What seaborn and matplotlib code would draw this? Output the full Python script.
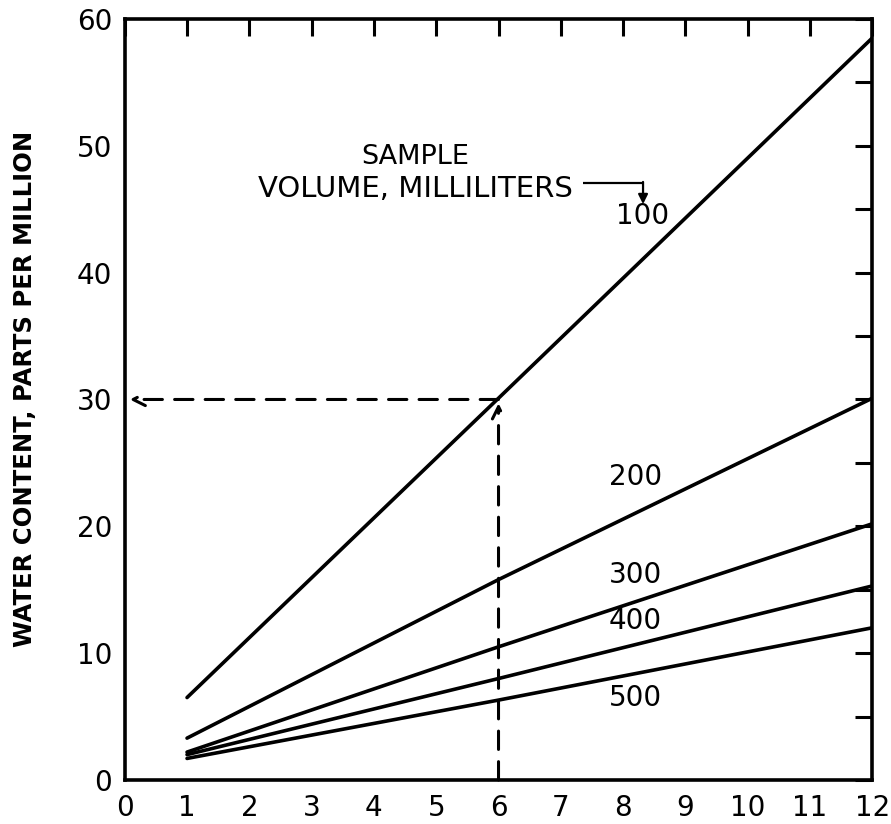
import matplotlib
matplotlib.use("Agg")
import matplotlib.pyplot as plt
import seaborn as sns
import pandas as pd
import numpy as np

# Data
x_points = [1, 6, 12]
vol_100 = [6.5, 30.1, 58.5]
vol_200 = [3.3, 15.8, 30.1]
vol_300 = [2.2, 10.5, 20.2]
vol_400 = [2.0, 8.0, 15.3]
vol_500 = [1.7, 6.3, 12.0]
volumes = ["100", "200", "300", "400", "500"]
series = [vol_100, vol_200, vol_300, vol_400, vol_500]
label_pos = {"100": (8.32, 44.5), "200": (8.2, 23.9), "300": (8.2, 16.2),
             "400": (8.2, 12.5), "500": (8.2, 6.5)}
x_ticks = list(range(0, 13))
x_ticklabels = ["0", "1", "2", "3", "4", "5", "6", "7", "8", "9", "10", "11", "12"]
y_ticks = [0, 10, 20, 30, 40, 50, 60]
y_minor = [5, 15, 25, 35, 45, 55]

rows = []
for v, s in zip(volumes, series):
    for xx, yy in zip(x_points, s):
        rows.append({"time": xx, "water": yy, "volume": v})
df = pd.DataFrame(rows)

sns.set_theme(style="white")
plt.rcParams["font.family"] = ["DejaVu Sans"]

fig = plt.figure(figsize=(8.91, 8.24), dpi=100)
ax = fig.add_axes([0.140, 0.0534, 0.839, 0.9236])

sns.lineplot(data=df, x="time", y="water", units="volume", estimator=None,
             color="black", linewidth=2.6, ax=ax, legend=False)

ax.set_xlim(0, 12)
ax.set_ylim(0, 60)

for v in volumes:
    px, py = label_pos[v]
    ax.text(px, py, v, fontsize=20, ha="center", va="center", color="black")

ax.text(4.66, 49.1, "SAMPLE", fontsize=19.5, ha="center", va="center", color="black")
ax.text(4.66, 46.6, "VOLUME, MILLILITERS", fontsize=21, ha="center", va="center", color="black")
ax.plot([7.36, 8.32], [47.1, 47.1], color="black", lw=1.6, solid_capstyle="butt")
ax.annotate("", xy=(8.32, 45.4), xytext=(8.32, 47.15),
            arrowprops=dict(arrowstyle="-|>", color="black", lw=1.6, mutation_scale=14,
                            shrinkA=0, shrinkB=0))

# dashed example lines
ax.annotate("", xy=(6, 29.7), xytext=(6, 0),
            arrowprops=dict(arrowstyle="->", color="black", lw=2.2, linestyle=(0, (6, 4)),
                            mutation_scale=22, shrinkA=0, shrinkB=0))
ax.annotate("", xy=(0.08, 30), xytext=(6, 30),
            arrowprops=dict(arrowstyle="->", color="black", lw=2.2, linestyle=(0, (6, 4)),
                            mutation_scale=22, shrinkA=0, shrinkB=0))

ax.set_xticks(x_ticks)
ax.set_xticklabels(x_ticklabels)
ax.set_yticks(y_ticks)
ax.set_yticks(y_minor, minor=True)
ax.tick_params(axis="both", which="both", direction="in", width=2.2, color="black",
               top=True, right=True, labelsize=20, labelcolor="black")
ax.tick_params(axis="both", which="major", length=12)
ax.tick_params(axis="both", which="minor", length=12)
ax.tick_params(axis="x", pad=10)
ax.tick_params(axis="y", pad=9)
ax.set_xlabel("")
ax.set_ylabel("WATER CONTENT, PARTS PER MILLION", fontsize=17.5, fontweight="bold",
              color="black")
ax.yaxis.set_label_coords(-0.118, 0.514)
for sp in ax.spines.values():
    sp.set_linewidth(2.6)
    sp.set_color("black")

fig.savefig("out.png", dpi=100)
